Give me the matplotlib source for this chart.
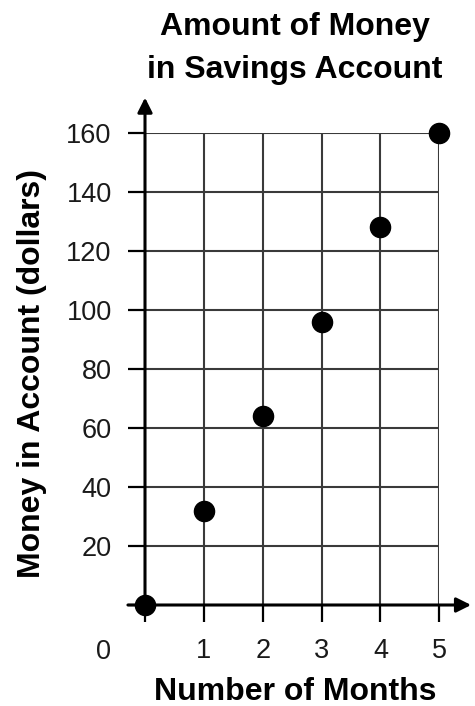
import matplotlib
matplotlib.use("Agg")
import matplotlib.pyplot as plt

# data
months = [0, 1, 2, 3, 4, 5]
money = [0, 32, 64, 96, 128, 160]
x_ticks = [0, 1, 2, 3, 4, 5]
x_labels = ['', '1', '2', '3', '4', '5']
y_ticks = [0, 20, 40, 60, 80, 100, 120, 140, 160]
y_labels = ['', '20', '40', '60', '80', '100', '120', '140', '160']

plt.rcParams['font.family'] = ['Liberation Sans', 'DejaVu Sans']

W, H = 475, 706
fig = plt.figure(figsize=(W / 100, H / 100), dpi=100)
ax = fig.add_axes([145 / W, 1 - 605 / H, 294.3 / W, 472 / H])
ax.set_xlim(0, 5)
ax.set_ylim(0, 160)
for s in ax.spines.values():
    s.set_visible(False)

# grid
for x in x_ticks[1:]:
    ax.plot([x, x], [0, 160], color='#3a3a3a', lw=1.5, zorder=1)
for y in y_ticks[1:]:
    ax.plot([0, 5], [y, y], color='#3a3a3a', lw=1.5, zorder=1)

# axes with arrows
ax.annotate('', xy=(0, 172), xytext=(0, 0), annotation_clip=False,
            arrowprops=dict(arrowstyle='-|>', color='black', lw=2.2,
                            mutation_scale=22, shrinkA=0, shrinkB=0))
ax.annotate('', xy=(5.54, 0), xytext=(-0.29, 0), annotation_clip=False,
            arrowprops=dict(arrowstyle='-|>', color='black', lw=2.2,
                            mutation_scale=22, shrinkA=0, shrinkB=0))

ax.set_xticks(x_ticks)
ax.set_xticklabels(x_labels)
ax.set_yticks(y_ticks)
ax.set_yticklabels(y_labels)
ax.tick_params(axis='both', length=12, width=1.6, color='black',
               labelsize=19.5, labelcolor='#1a1a1a')
ax.tick_params(axis='x', pad=12)
ax.tick_params(axis='y', pad=12)
ax.text(-0.71, -15.9, '0', fontsize=19.5, color='#1a1a1a', ha='center', va='center',
        clip_on=False)

ax.plot(months, money, 'o', color='black', markersize=14.5, clip_on=False, zorder=5)

fig.text(295 / W, 1 - 27 / H, 'Amount of Money', fontsize=23, fontweight='bold',
         ha='center', va='center')
fig.text(295 / W, 1 - 70 / H, 'in Savings Account', fontsize=23, fontweight='bold',
         ha='center', va='center')
fig.text(295 / W, 1 - 692 / H, 'Number of Months', fontsize=23, fontweight='bold',
         ha='center', va='center')
fig.text(32 / W, 1 - 373 / H, 'Money in Account (dollars)', fontsize=23,
         fontweight='bold', ha='center', va='center', rotation=90)

fig.savefig('out.png', dpi=100)
